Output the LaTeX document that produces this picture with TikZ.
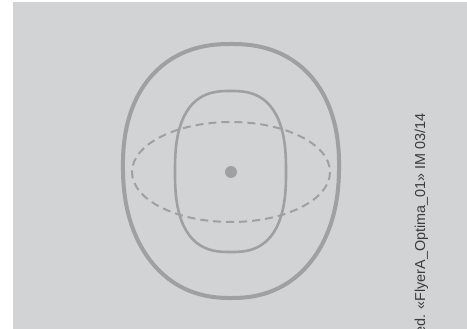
\documentclass[tikz,border=0pt]{standalone}
\usepackage{fontspec}
\setmainfont{Liberation Sans}
\definecolor{panelgray}{RGB}{210,211,213}
\definecolor{contourgray}{RGB}{160,160,163}
\definecolor{notegray}{RGB}{60,60,62}

\begin{document}
\begin{tikzpicture}[x=1pt, y=-1pt]
    \useasboundingbox (0,0) rectangle (467,329);
    \clip (0,0) rectangle (467,329);
    \fill[panelgray] (13,2) rectangle (468,330);
    \coordinate (centre) at (231,172);

    % outer contour
    \draw[contourgray, line width=4, domain=0.5:360.5, samples=121, smooth]
        plot ({231+108*(1-0.03*sin(\x))*sign(cos(\x))*abs(cos(\x))^0.88}, {171+127*sign(sin(\x))*abs(sin(\x))^0.9}) -- cycle;

    % inner contour
    \draw[contourgray, line width=2.6, domain=0.5:360.5, samples=121, smooth]
        plot ({230.5+55.5*sign(cos(\x))*abs(cos(\x))^0.75}, {171.5+80.5*sign(sin(\x))*abs(sin(\x))^0.78}) -- cycle;

    % dashed ellipse
    \draw[contourgray, line width=2, dash pattern=on 8pt off 5pt] (centre) ellipse [x radius=99, y radius=50];

    % centre point
    \fill[contourgray] (centre) circle [radius=6];

    % side note
    \node[notegray, rotate=90, anchor=base east, inner sep=0pt, font=\fontsize{14.4}{17}\selectfont]
        (note) at (425,113) {ed. «FlyerA\_Optima\_01» IM 03/14};
\end{tikzpicture}
\end{document}
